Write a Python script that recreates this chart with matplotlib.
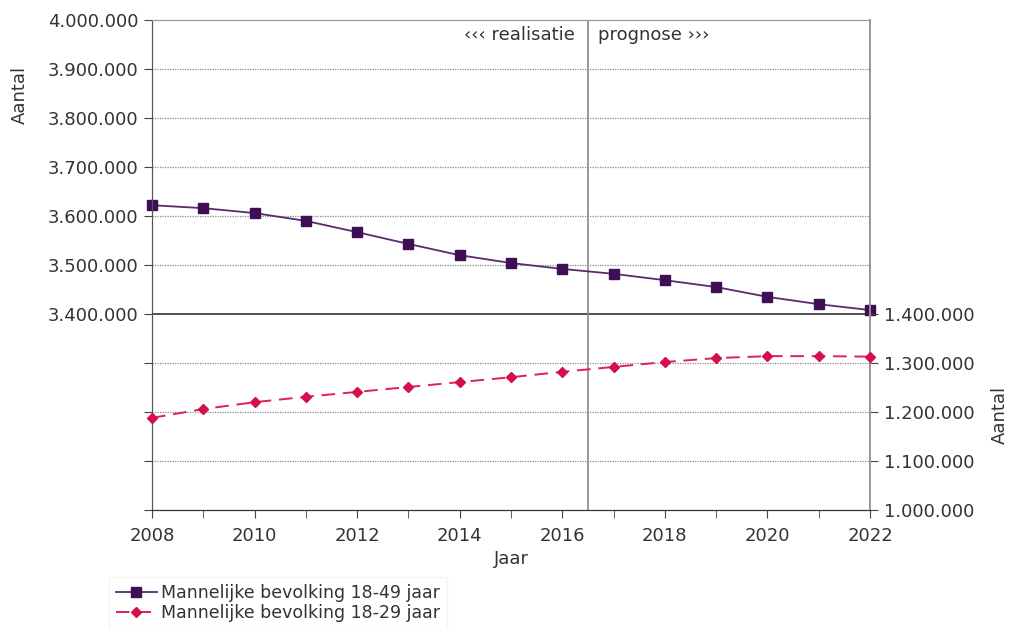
import matplotlib.pyplot as plt
from matplotlib.ticker import MultipleLocator, FixedLocator

# Data
jaren = list(range(2008, 2023))
man_18_49 = [3622000, 3616000, 3606000, 3590000, 3567000, 3543000, 3520000,
             3504000, 3492000, 3482000, 3469000, 3455000, 3435000, 3420000, 3408000]
man_18_29 = [1188000, 1206000, 1220000, 1231000, 1241000, 1251000, 1261000,
             1271000, 1282000, 1292000, 1302000, 1310000, 1314000, 1314000, 1313000]

links_ticks = [3000000 + i * 100000 for i in range(11)]
rechts_ticks = [1000000, 1100000, 1200000, 1300000, 1400000]


def fmt(v):
    return f"{v:,.0f}".replace(",", ".")


plt.rcParams['font.family'] = 'DejaVu Sans'
fs = 13

fig = plt.figure(figsize=(10.11, 6.29), dpi=100)
ax = fig.add_axes([152 / 1011, 1 - 510 / 629, 718 / 1011, 490 / 629])
ax2 = ax.twinx()

ax.set_xlim(2008, 2022)
ax.set_ylim(3000000, 4000000)
ax2.set_ylim(1000000, 2000000)

# grid lines
for v in links_ticks[1:-1]:
    if v == 3400000:
        ax.axhline(v, color='#222222', lw=1.1, zorder=1)
    else:
        ax.axhline(v, color='#8a8a8a', lw=0.9, ls=(0, (1, 1)), zorder=1)
ax.axvline(2016.5, color='#888888', lw=1.2, zorder=1)

# top series on the left axis, bottom series on the right axis
l1, = ax.plot(jaren, man_18_49, color='#5a2a6e', lw=1.3, marker='s', ms=7,
              mfc='#3f0f55', mec='#3f0f55', zorder=5, clip_on=False,
              label='Mannelijke bevolking 18-49 jaar')
l2, = ax2.plot(jaren, man_18_29, color='#e0204f', lw=1.4, ls=(0, (7, 4)),
               marker='D', ms=5, mfc='#d4104a', mec='#d4104a', zorder=5,
               clip_on=False, label='Mannelijke bevolking 18-29 jaar')

# x axis
ax.xaxis.set_major_locator(MultipleLocator(2))
ax.xaxis.set_minor_locator(MultipleLocator(1))
ax.tick_params(axis='x', which='both', direction='out', length=6,
               color='#444444', labelsize=fs, labelcolor='#333333', pad=6)

# left axis
ax.yaxis.set_major_locator(FixedLocator(links_ticks))
ax.set_yticklabels([fmt(v) if v >= 3400000 else '' for v in links_ticks])
ax.tick_params(axis='y', direction='out', length=6, color='#444444',
               labelsize=fs, labelcolor='#333333', pad=4)

# right axis
ax2.yaxis.set_major_locator(FixedLocator(rechts_ticks))
ax2.set_yticklabels([fmt(v) for v in rechts_ticks])
ax2.tick_params(axis='y', direction='out', length=6, color='#444444',
                labelsize=fs, labelcolor='#333333', pad=4)

for a in (ax, ax2):
    a.spines['left'].set_color('#555555')
    a.spines['bottom'].set_color('#333333')
    a.spines['right'].set_color('#999999')
    a.spines['right'].set_linewidth(1.3)
    a.spines['top'].set_color('#999999')

ax.set_xlabel('Jaar', fontsize=fs, color='#333333', labelpad=4)
fig.text(20 / 1011, 1 - 95 / 629, 'Aantal', rotation=90, fontsize=fs,
         color='#333333', ha='center', va='center')
fig.text(1000 / 1011, 1 - 415 / 629, 'Aantal', rotation=90, fontsize=fs,
         color='#333333', ha='center', va='center')

ax.text(2016.25, 3970000, '\u2039\u2039\u2039 realisatie', ha='right', va='center',
        fontsize=fs, color='#333333')
ax.text(2016.7, 3970000, 'prognose \u203a\u203a\u203a', ha='left', va='center',
        fontsize=fs, color='#333333')

fig.legend(handles=[l1, l2], loc='upper left',
           bbox_to_anchor=(100 / 1011, 1 - 568 / 629), fontsize=12.5,
           frameon=True, edgecolor='#f0f0f0', fancybox=False,
           handlelength=2.4, handletextpad=0.2, labelspacing=0.15,
           borderpad=0.4, labelcolor='#333333')

fig.savefig('out.png', dpi=100, facecolor='white')
